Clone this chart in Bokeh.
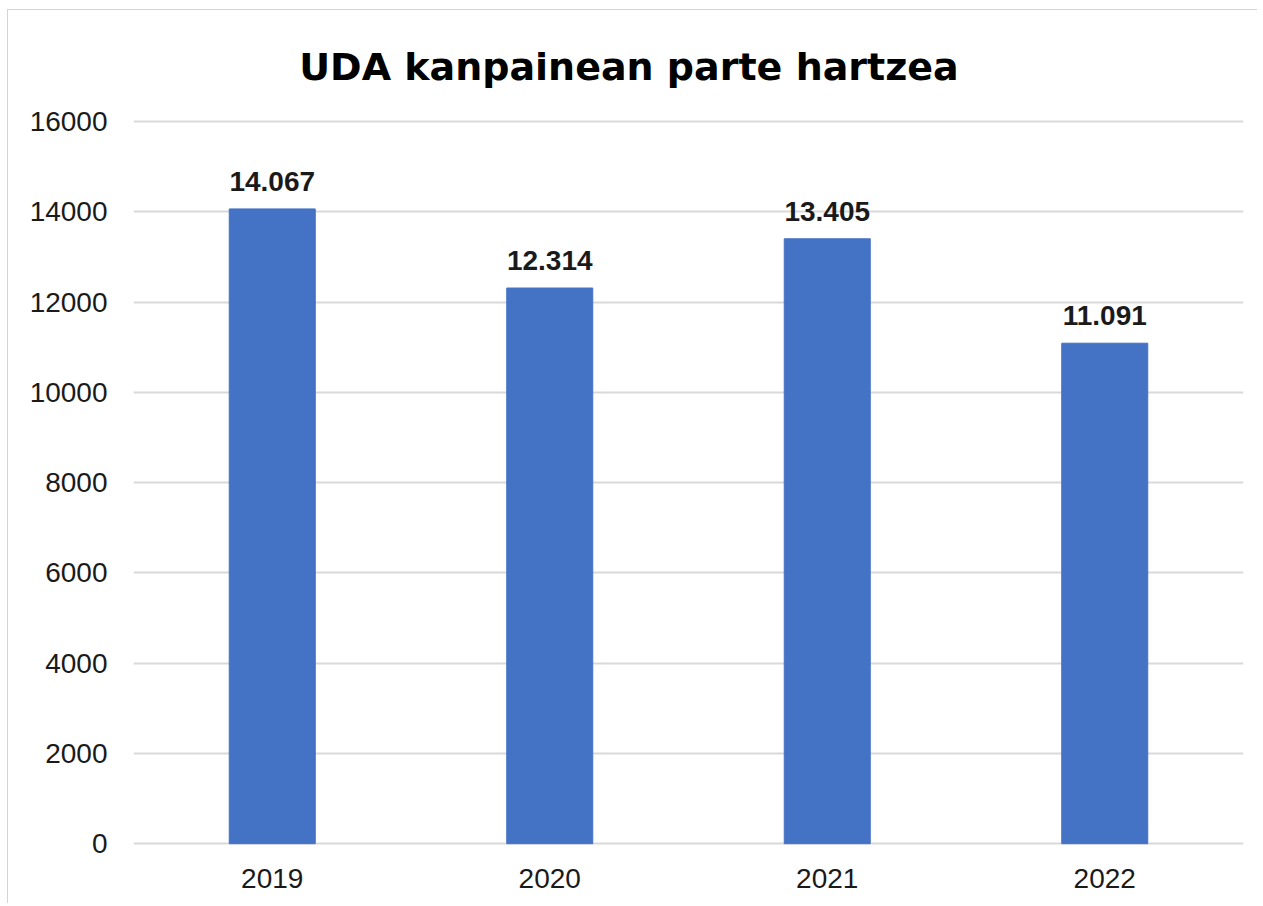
from bokeh.plotting import figure
from bokeh.models import ColumnDataSource, LabelSet, Label, FixedTicker
from bokeh.core.properties import value
from bokeh.embed import file_html
from bokeh.resources import INLINE

years = ["2019", "2020", "2021", "2022"]
values = [14067, 12314, 13405, 11091]
value_labels = ["14.067", "12.314", "13.405", "11.091"]
y_ticks = [0, 2000, 4000, 6000, 8000, 10000, 12000, 14000, 16000]
title_text = "UDA kanpainean parte hartzea"

FONT = "Liberation Sans"
TITLE_FONT = "DejaVu Sans"
BAR = "#4472C4"
GRID = "#D9D9D9"
TXT = "#1a1a1a"

src = ColumnDataSource(dict(x=years, top=values, lab=value_labels))

# frame extends up to the top so the title can sit inside it
p = figure(x_range=years, y_range=(-40, 18464), width=1250, height=894,
           output_backend="svg", toolbar_location=None,
           min_border_left=125, min_border_right=15, min_border_top=0,
           min_border_bottom=59)
p.styles = {"margin-left": "7px", "margin-top": "9px",
            "border-left": "1px solid #d4d4d4", "border-top": "1px solid #d4d4d4"}

p.vbar(x="x", top="top", width=0.31, source=src, color=BAR)

p.outline_line_color = None
p.background_fill_color = "white"
p.border_fill_color = "white"

p.xgrid.grid_line_color = None
p.ygrid.grid_line_color = GRID
p.ygrid.grid_line_width = 2
p.yaxis.ticker = FixedTicker(ticks=y_ticks)

for ax in (p.xaxis, p.yaxis):
    ax.axis_line_color = None
    ax.major_tick_line_color = None
    ax.minor_tick_line_color = None
    ax.major_tick_out = 0
    ax.major_tick_in = 0
    ax.major_label_text_font = FONT
    ax.major_label_text_font_size = "28px"
    ax.major_label_text_color = TXT

p.yaxis.major_label_standoff = 26
p.xaxis.major_label_standoff = 23

labels = LabelSet(x="x", y="top", text="lab", source=src, text_align="center",
                  text_baseline="alphabetic", y_offset=18,
                  text_font=value(FONT), text_font_size=value("28px"),
                  text_font_style="bold", text_color=TXT)
p.add_layout(labels)

title = Label(x=1.7856, y=17201, text=title_text, text_align="center",
              text_baseline="alphabetic", text_font=TITLE_FONT,
              text_font_size="38px", text_font_style="bold",
              text_color="#000000")
p.add_layout(title)

open("out.html", "w").write(file_html(p, INLINE))
